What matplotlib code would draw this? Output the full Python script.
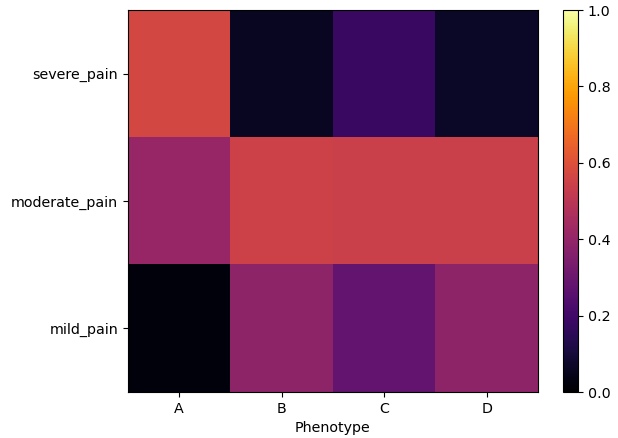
import numpy as np
import matplotlib
matplotlib.use("Agg")
import matplotlib.pyplot as plt

plt.rcParams["font.size"] = 10.3

phenotypes = ["A", "B", "C", "D"]
pain_levels = ["severe_pain", "moderate_pain", "mild_pain"]

severe_pain = [0.57, 0.06, 0.18, 0.07]
moderate_pain = [0.41, 0.55, 0.54, 0.54]
mild_pain = [0.02, 0.39, 0.28, 0.39]

values = np.array([severe_pain, moderate_pain, mild_pain])

fig = plt.figure(figsize=(6.18, 4.38), dpi=100)
ax = fig.add_axes([128 / 618, 1 - 392 / 438, 410 / 618, 382 / 438])
cax = fig.add_axes([563 / 618, 1 - 392 / 438, 15 / 618, 382 / 438])

im = ax.imshow(values, cmap="inferno", vmin=0, vmax=1, aspect="auto")
ax.set_xticks(range(len(phenotypes)))
ax.set_xticklabels(phenotypes)
ax.set_yticks(range(len(pain_levels)))
ax.set_yticklabels(pain_levels)
ax.set_xlabel("Phenotype")

fig.colorbar(im, cax=cax)

fig.savefig("out.png", dpi=100)
